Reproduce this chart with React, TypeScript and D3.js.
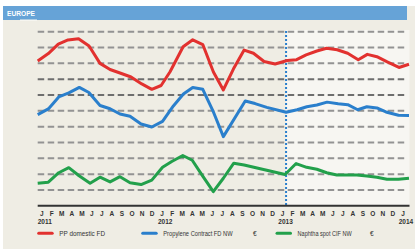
import React, { useEffect, useRef } from "react";
import * as d3 from "d3";

// month index (0 = start of Jan 2011) and price
const ppMonths = [0, 1.06, 2.05, 3.02, 4.07, 5.12, 6.21, 7.21, 8.2, 9.3, 10.37, 11.37, 12.3, 13.19, 14.49, 15.45, 16.45, 17.51, 18.5, 19.5, 20.57, 21.5, 22.56, 23.66, 24.86, 25.8, 26.75, 27.82, 28.79, 29.84, 30.89, 31.94, 32.85, 33.8, 34.83, 36.0, 37];
const ppValues = [1315, 1362, 1422, 1448, 1456, 1410, 1300, 1261, 1239, 1214, 1170, 1136, 1160, 1247, 1405, 1449, 1419, 1245, 1132, 1264, 1384, 1364, 1312, 1296, 1318, 1323, 1353, 1378, 1395, 1386, 1364, 1323, 1357, 1342, 1309, 1274, 1294];

const propMonths = [0, 1.06, 2.1, 3.1, 4.15, 5.1, 6.21, 7.21, 8.2, 9.2, 10.3, 11.37, 12.44, 13.52, 14.52, 15.45, 16.45, 17.51, 18.5, 20.68, 21.66, 22.83, 24.76, 25.85, 26.82, 27.82, 28.84, 29.94, 30.9, 31.89, 32.8, 33.8, 34.7, 35.95, 37];
const propValues = [976, 1012, 1088, 1113, 1148, 1116, 1034, 1013, 980, 966, 917, 898, 933, 1031, 1106, 1148, 1136, 993, 837, 1062, 1046, 1022, 991, 1007, 1026, 1037, 1055, 1045, 1039, 1007, 1026, 1018, 993, 972, 971];

const naphMonths = [0, 1.06, 2.1, 3.1, 4.12, 5.22, 6.21, 7.21, 8.2, 9.2, 10.3, 11.37, 12.44, 13.36, 14.46, 15.4, 16.48, 17.5, 18.5, 19.54, 20.57, 24.65, 25.75, 26.8, 27.82, 28.8, 29.81, 30.81, 31.8, 32.8, 33.8, 34.8, 35.95, 37];
const naphValues = [542, 549, 609, 641, 590, 542, 581, 551, 584, 546, 534, 562, 644, 680, 718, 688, 584, 489, 574, 669, 658, 598, 667, 643, 631, 609, 595, 595, 595, 588, 580, 568, 568, 574];

const monthLetters = [
  "J", "F", "M", "A", "M", "J", "J", "A", "S", "O", "N", "D",
  "J", "F", "M", "A", "M", "J", "J", "A", "S", "O", "N", "D",
  "J", "F", "M", "A", "M", "J", "J", "A", "S", "O", "N", "D",
  "J",
];
const years = ["2011", "2012", "2013", "2014"];
const gridValues = [1500, 1400, 1300, 1200, 1100, 1000, 900, 800, 700, 600, 500];
const cutMonth = 24.75;

const series = [
  { name: "PP domestic FD", unit: "", color: "#e2312f", months: ppMonths, values: ppValues },
  { name: "Propylene Contract FD NW", unit: "€", color: "#2a7fcc", months: propMonths, values: propValues },
  { name: "Naphtha spot CIF NW", unit: "€", color: "#22a04b", months: naphMonths, values: naphValues },
];

export default function App() {
  const svgRef = useRef<SVGSVGElement>(null);

  useEffect(() => {
    document.body.style.margin = "0";
    const width = 415;
    const height = 249;
    const font = "'Liberation Sans Narrow', 'Liberation Sans', Arial, sans-serif";

    const x = d3.scaleLinear().domain([0, 37]).range([37.7, 409]);
    const y = d3.scaleLinear().domain([400, 1500]).range([205.8, 31.7]);

    const svg = d3.select(svgRef.current).attr("width", width).attr("height", height);
    svg.selectAll("*").remove();

    svg.append("rect").attr("width", width).attr("height", height).attr("fill", "#ffffff");
    svg.append("rect").attr("x", 3).attr("y", 6).attr("width", width - 3).attr("height", height - 6).attr("fill", "#efede4");

    // header bar
    svg.append("rect").attr("x", 3).attr("y", 6).attr("width", 404).attr("height", 14).attr("fill", "#66a3d7");
    svg.append("rect").attr("x", 20).attr("y", 19.5).attr("width", 17).attr("height", 1.5).attr("fill", "#f6f5ef");
    svg
      .append("text")
      .attr("x", 7)
      .attr("y", 16)
      .attr("fill", "#ffffff")
      .attr("font-family", font)
      .attr("font-weight", "bold")
      .attr("font-size", 8)
      .attr("textLength", 28)
      .attr("lengthAdjust", "spacingAndGlyphs")
      .text("EUROPE");

    // lighter area after the cut
    svg
      .append("rect")
      .attr("x", x(cutMonth))
      .attr("y", 30)
      .attr("width", x(37) - x(cutMonth) + 0.5)
      .attr("height", y(400) - 30)
      .attr("fill", "#f7f6f2");

    // dashed grid
    svg
      .append("g")
      .selectAll("line")
      .data(gridValues)
      .join("line")
      .attr("x1", 37.7)
      .attr("x2", 406)
      .attr("y1", (d) => y(d))
      .attr("y2", (d) => y(d))
      .attr("stroke", (d) => (d === 1200 || d === 1100 ? "#6e6e6e" : "#939393"))
      .attr("stroke-width", 2)
      .attr("stroke-dasharray", "6.5,3.5");

    // cut marker
    svg
      .append("line")
      .attr("x1", x(cutMonth))
      .attr("x2", x(cutMonth))
      .attr("y1", 31)
      .attr("y2", y(400))
      .attr("stroke", "#2a7fcc")
      .attr("stroke-width", 2)
      .attr("stroke-dasharray", "2,2");

    const line = d3
      .line<[number, number]>()
      .x((d) => x(d[0]))
      .y((d) => y(d[1]));

    series.forEach((s) => {
      const pts = s.months.map((m, i) => [m, s.values[i]] as [number, number]);
      svg
        .append("path")
        .datum(pts)
        .attr("d", line)
        .attr("fill", "none")
        .attr("stroke", s.color)
        .attr("stroke-width", 3)
        .attr("stroke-linejoin", "round");
    });

    // x axis
    svg
      .append("line")
      .attr("x1", 37.7)
      .attr("x2", 409.5)
      .attr("y1", y(400))
      .attr("y2", y(400))
      .attr("stroke", "#333333")
      .attr("stroke-width", 2);

    svg
      .append("g")
      .selectAll("text")
      .data(monthLetters)
      .join("text")
      .attr("x", (d, i) => x(i + 0.4))
      .attr("y", 216)
      .attr("text-anchor", "middle")
      .attr("font-family", font)
      .attr("font-weight", "bold")
      .attr("font-size", 6.5)
      .attr("fill", "#333333")
      .text((d) => d);

    svg
      .append("g")
      .selectAll("text")
      .data(years)
      .join("text")
      .attr("x", (d, i) => x(i * 12 + 0.7))
      .attr("y", 224)
      .attr("text-anchor", "middle")
      .attr("font-family", font)
      .attr("font-weight", "bold")
      .attr("font-size", 6.5)
      .attr("fill", "#333333")
      .text((d) => d);

    // legend
    const legendX = [37.7, 141.7, 276];
    const legendText = [45.7, 69.3, 54];
    const unitX = [0, 253, 370];
    series.forEach((s, i) => {
      svg
        .append("line")
        .attr("x1", legendX[i] + 1)
        .attr("x2", legendX[i] + 14.5)
        .attr("y1", 233.3)
        .attr("y2", 233.3)
        .attr("stroke", s.color)
        .attr("stroke-width", 3)
        .attr("stroke-linecap", "round");
      svg
        .append("text")
        .attr("x", legendX[i] + 21.6)
        .attr("y", 235.6)
        .attr("font-family", font)
        .attr("font-size", 6.5)
        .attr("fill", "#333333")
        .attr("textLength", legendText[i])
        .attr("lengthAdjust", "spacingAndGlyphs")
        .text(s.name);
      if (s.unit) {
        svg
          .append("text")
          .attr("x", unitX[i])
          .attr("y", 235.6)
          .attr("font-family", font)
          .attr("font-size", 6.5)
          .attr("fill", "#333333")
          .text(s.unit);
      }
    });
  }, []);

  return <svg ref={svgRef}></svg>;
}
